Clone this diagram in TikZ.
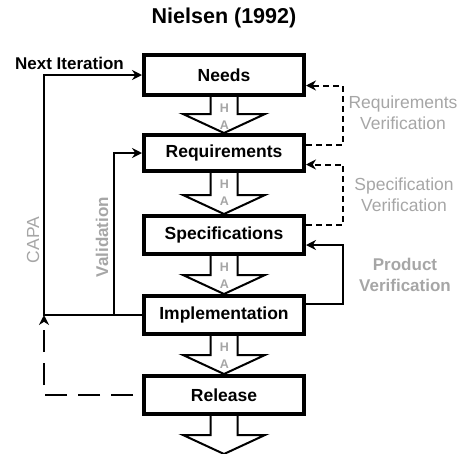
\documentclass[tikz,border=0pt]{standalone}
\usepackage{fontspec}
\setmainfont{Liberation Sans}
\usetikzlibrary{arrows.meta,calc}
\definecolor{labelgray}{RGB}{166,166,166}

% hollow down arrow between two stacked stages (#1 above, #2 below)
\newcommand{\hollowdown}[2]{%
  \draw[hollow] let \p1=(#1.south), \p2=(#2) in
    (\x1-13.5pt,\y1) -- (\x1-13.5pt,\y2+19pt) -- (\x1-41pt,\y2+19pt)
    -- (\x1,\y2) -- (\x1+41pt,\y2+19pt) -- (\x1+13.5pt,\y2+19pt)
    -- (\x1+13.5pt,\y1);}

\begin{document}
\begin{tikzpicture}[x=1pt,y=-1pt,
  stage/.style={draw, line width=4pt, minimum width=160pt, minimum height=38pt,
    inner sep=0pt, font=\bfseries\fontsize{17.5}{20}\selectfont},
  link/.style={line width=2pt, -{Stealth[length=10pt,width=10pt]}},
  verif/.style={link, dash pattern=on 6pt off 4pt},
  capa/.style={link, dash pattern=on 22pt off 11pt},
  hollow/.style={line width=2pt, fill=white, line join=miter},
  tag/.style={text=labelgray, font=\fontsize{17.5}{21}\selectfont, align=center},
  boldtag/.style={tag, font=\bfseries\fontsize{17}{21.5}\selectfont},
  ha/.style={text=labelgray, font=\bfseries\fontsize{12.5}{12.5}\selectfont, inner sep=0pt}
]
\useasboundingbox (0,0) rectangle (458,453);

% title
\node[font=\bfseries\fontsize{21.5}{24}\selectfont] (title) at (224,18) {Nielsen (1992)};

% stages
\node[stage, minimum height=40pt] (needs) at (224,75) {Needs};
\node[stage, minimum height=36pt] (req)   at (224,153) {Requirements};
\node[stage] (spec)  at (224,235) {Specifications};
\node[stage] (impl)  at (224,315) {Implementation};
\node[stage] (rel)   at (224,395) {Release};
\coordinate (out) at (224,454);

% hand-off arrows
\hollowdown{needs}{req.north}
\hollowdown{req}{spec.north}
\hollowdown{spec}{impl.north}
\hollowdown{impl}{rel.north}
\hollowdown{rel}{out}

\foreach \s in {needs,req,spec,impl}{
  \node[ha] at ($(\s.south)+(0.5,11)$) {H};
  \node[ha] at ($(\s.south)+(0.5,28)$) {A};
}

% left side: next iteration and validation loops
\coordinate (loop) at ($(impl.west)+(-98,0)$);
\coordinate (valid) at ($(impl.west)+(-28,0)$);
\draw[link] (impl.west) -- (loop) |- (needs.west);
\draw[link] (valid) |- (req.west);
\draw[capa] ([xshift=-9pt]rel.west) -| (loop);

\node[font=\bfseries\fontsize{17}{20}\selectfont] (next) at (69.5,63) {Next Iteration};
\node[tag, rotate=90] (capalbl) at (33,240) {CAPA};
\node[boldtag, rotate=90] (validlbl) at (102,237) {Validation};

% right side: verification loops
\draw[verif] ([yshift=8.5pt]req.east) -- ++(37,0) |- ([yshift=-10.5pt]needs.east);
\draw[verif] ([yshift=10pt]spec.east) -- ++(37,0) |- ([yshift=-11.5pt]req.east);
\draw[link] ([yshift=11pt]impl.east) -- ++(37,0) |- ([yshift=-10pt]spec.east);

\node[tag] (rv) at (403,113) {Requirements\\Verification};
\node[tag] (sv) at (404,194.5) {Specification\\Verification};
\node[boldtag] (pv) at (405,275) {Product\\Verification};
\end{tikzpicture}
\end{document}
